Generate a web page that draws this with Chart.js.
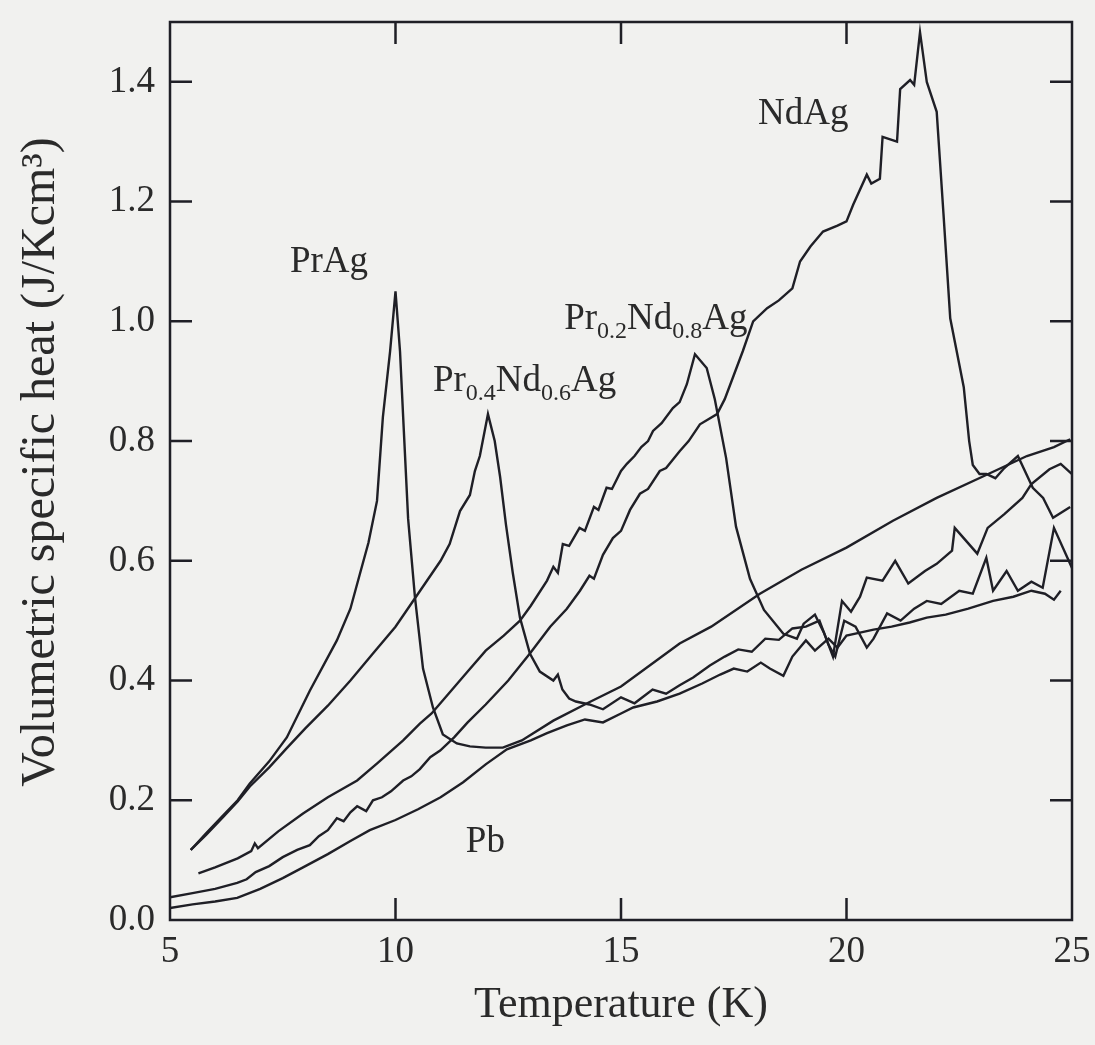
<!DOCTYPE html>
<html>
<head>
<meta charset="utf-8">
<title>Volumetric specific heat</title>
<script src="https://cdn.jsdelivr.net/npm/chart.js@4.4.1/dist/chart.umd.min.js"></script>
<style>
  html, body { margin: 0; padding: 0; background: #f1f1ef; }
  #wrap { width: 1095px; height: 1045px; position: relative; }
</style>
</head>
<body>
<div id="wrap"><canvas id="heatChart"></canvas></div>
<script>
// axis ticks
const xTicks = [5, 10, 15, 20, 25];
const yTicks = [0, 0.2, 0.4, 0.6, 0.8, 1.0, 1.2, 1.4];

// PrAg
const prAgT = [5.46, 5.8, 6.18, 6.5, 6.77, 7.2, 7.59, 8.1, 8.7, 9.0, 9.21, 9.4, 9.59, 9.72, 9.88, 10.0,
  10.1, 10.17, 10.28, 10.43, 10.61, 10.83, 11.05, 11.36, 11.65, 12.0, 12.38, 12.8, 13.5, 14.25, 15.0,
  15.87, 16.3, 17.0, 18.08, 19.0, 20.0, 21.03, 22.0, 23.0, 24.0, 24.6, 24.96];
const prAgC = [0.117, 0.145, 0.175, 0.2, 0.228, 0.265, 0.305, 0.383, 0.467, 0.52, 0.578, 0.63, 0.70, 0.84, 0.95, 1.05,
  0.95, 0.84, 0.67, 0.54, 0.42, 0.355, 0.31, 0.295, 0.29, 0.288, 0.288, 0.30, 0.333, 0.362, 0.39,
  0.438, 0.462, 0.49, 0.545, 0.585, 0.622, 0.667, 0.705, 0.74, 0.775, 0.79, 0.803];

// Pr0.4Nd0.6Ag
const pr04T = [5.46, 5.8, 6.18, 6.5, 6.77, 7.2, 7.6, 8.0, 8.5, 9.0, 9.5, 10.0, 10.5, 11.0, 11.2, 11.43, 11.65,
  11.76, 11.87, 12.05, 12.2, 12.32, 12.45, 12.6, 12.76, 12.98, 13.2, 13.5, 13.6, 13.7, 13.85, 14.0, 14.3,
  14.6, 15.0, 15.3, 15.7, 16.0, 16.3, 16.6, 16.97, 17.3, 17.6, 17.9, 18.2, 18.5, 18.8, 19.1, 19.4, 19.6,
  19.75, 19.95, 20.2, 20.45, 20.6, 20.9, 21.2, 21.5, 21.78, 22.1, 22.5, 22.8, 23.1, 23.25, 23.55, 23.8,
  24.1, 24.35, 24.6, 25.0];
const pr04C = [0.117, 0.142, 0.172, 0.198, 0.223, 0.255, 0.288, 0.32, 0.358, 0.40, 0.445, 0.49, 0.545, 0.60, 0.628, 0.683, 0.71,
  0.75, 0.775, 0.845, 0.80, 0.74, 0.66, 0.58, 0.505, 0.445, 0.415, 0.40, 0.41, 0.385, 0.37, 0.365, 0.36,
  0.352, 0.372, 0.362, 0.385, 0.378, 0.392, 0.405, 0.425, 0.44, 0.452, 0.448, 0.47, 0.468, 0.487, 0.49, 0.50, 0.46,
  0.44, 0.50, 0.49, 0.455, 0.47, 0.512, 0.50, 0.52, 0.533, 0.528, 0.55, 0.545, 0.605, 0.55, 0.583, 0.55,
  0.565, 0.555, 0.655, 0.588];

// Pr0.2Nd0.8Ag
const pr02T = [5.63, 6.0, 6.5, 6.8, 6.88, 6.95, 7.4, 7.95, 8.5, 9.15, 9.6, 10.17, 10.54, 10.8, 11.2, 11.6, 12.0,
  12.4, 12.76, 13.0, 13.36, 13.5, 13.6, 13.71, 13.85, 14.08, 14.2, 14.4, 14.5, 14.68, 14.8, 15.0, 15.13,
  15.3, 15.45, 15.6, 15.71, 15.9, 16.15, 16.3, 16.46, 16.64, 16.9, 17.08, 17.33, 17.55, 17.86, 18.17,
  18.6, 18.9, 19.05, 19.3, 19.5, 19.7, 19.9, 20.1, 20.3, 20.45, 20.8, 21.08, 21.37, 21.74, 22.0, 22.34,
  22.4, 22.9, 23.13, 23.5, 23.9, 24.1, 24.5, 24.75, 25.0];
const pr02C = [0.078, 0.088, 0.103, 0.115, 0.128, 0.12, 0.148, 0.178, 0.205, 0.233, 0.262, 0.30, 0.328, 0.345, 0.38, 0.415, 0.45,
  0.475, 0.50, 0.525, 0.567, 0.59, 0.58, 0.628, 0.625, 0.655, 0.65, 0.69, 0.685, 0.722, 0.72, 0.75, 0.762,
  0.775, 0.79, 0.80, 0.817, 0.83, 0.855, 0.865, 0.895, 0.945, 0.922, 0.87, 0.772, 0.657, 0.57, 0.518,
  0.478, 0.47, 0.495, 0.51, 0.48, 0.44, 0.533, 0.515, 0.54, 0.572, 0.567, 0.60, 0.562, 0.583, 0.595, 0.617,
  0.655, 0.612, 0.655, 0.678, 0.705, 0.728, 0.753, 0.762, 0.745];

// NdAg
const ndAgT = [5.0, 5.5, 6.0, 6.49, 6.7, 6.9, 7.2, 7.5, 7.82, 8.1, 8.3, 8.5, 8.7, 8.85, 9.0, 9.15, 9.35, 9.5,
  9.7, 9.9, 10.17, 10.35, 10.54, 10.77, 10.99, 11.3, 11.6, 12.0, 12.5, 12.98, 13.43, 13.8, 14.09, 14.3,
  14.4, 14.6, 14.82, 15.0, 15.2, 15.42, 15.6, 15.86, 16.0, 16.3, 16.5, 16.75, 17.13, 17.3, 17.5, 17.7,
  17.93, 18.24, 18.5, 18.8, 18.97, 19.2, 19.48, 19.8, 20.0, 20.15, 20.45, 20.55, 20.74, 20.8, 21.12,
  21.19, 21.41, 21.5, 21.63, 21.78, 22.0, 22.15, 22.3, 22.6, 22.72, 22.8, 22.95, 23.1, 23.3, 23.5, 23.8,
  24.13, 24.36, 24.58, 24.96];
const ndAgC = [0.038, 0.045, 0.052, 0.062, 0.068, 0.08, 0.09, 0.105, 0.117, 0.125, 0.14, 0.15, 0.17, 0.165, 0.18, 0.19, 0.182, 0.2,
  0.205, 0.215, 0.233, 0.24, 0.252, 0.272, 0.283, 0.305, 0.33, 0.36, 0.40, 0.445, 0.49, 0.52, 0.55, 0.575,
  0.57, 0.61, 0.638, 0.65, 0.685, 0.712, 0.72, 0.75, 0.755, 0.783, 0.80, 0.828, 0.845, 0.87, 0.91, 0.95,
  1.0, 1.022, 1.035, 1.055, 1.10, 1.125, 1.15, 1.16, 1.167, 1.195, 1.245, 1.23, 1.238, 1.308, 1.30,
  1.388, 1.403, 1.395, 1.483, 1.40, 1.35, 1.18, 1.005, 0.89, 0.80, 0.76, 0.745, 0.745, 0.738, 0.755, 0.775,
  0.722, 0.705, 0.672, 0.69];

// Pb
const pbT = [5.0, 5.5, 6.0, 6.49, 7.0, 7.5, 7.95, 8.5, 9.0, 9.43, 10.0, 10.5, 11.0, 11.5, 12.0, 12.47, 13.0,
  13.36, 13.8, 14.2, 14.6, 15.0, 15.27, 15.8, 16.3, 16.8, 17.2, 17.5, 17.8, 18.1, 18.3, 18.6, 18.8, 19.1,
  19.3, 19.6, 19.8, 20.0, 20.3, 20.6, 21.0, 21.4, 21.78, 22.2, 22.7, 23.25, 23.7, 24.1, 24.4, 24.6, 24.75];
const pbC = [0.02, 0.026, 0.031, 0.037, 0.052, 0.07, 0.088, 0.11, 0.132, 0.15, 0.167, 0.185, 0.205, 0.23, 0.26, 0.285, 0.30,
  0.312, 0.325, 0.335, 0.33, 0.345, 0.355, 0.365, 0.378, 0.395, 0.41, 0.42, 0.415, 0.43, 0.42, 0.408, 0.44, 0.467,
  0.45, 0.47, 0.455, 0.475, 0.48, 0.485, 0.49, 0.497, 0.505, 0.51, 0.52, 0.533, 0.54, 0.55, 0.545, 0.535, 0.55];

const ink = '#1f1f26';
const serif = '"Liberation Serif", "Times New Roman", serif';

function toPoints(ts, cs) {
    return ts.map((t, i) => ({ x: t, y: cs[i] }));
}

function curve(label, ts, cs) {
    return {
        label: label,
        data: toPoints(ts, cs),
        borderColor: ink,
        borderWidth: 2.4,
        pointRadius: 0,
        tension: 0,
        fill: false
    };
}

// text pieces: [string, isSubscript]
const curveLabels = [
    { t: 7.66, c: 1.083, parts: [['PrAg', false]] },
    { t: 10.83, c: 0.883, parts: [['Pr', false], ['0.4', true], ['Nd', false], ['0.6', true], ['Ag', false]] },
    { t: 13.74, c: 0.988, parts: [['Pr', false], ['0.2', true], ['Nd', false], ['0.8', true], ['Ag', false]] },
    { t: 18.04, c: 1.33, parts: [['NdAg', false]] },
    { t: 11.56, c: 0.113, parts: [['Pb', false]] }
];

const framePlugin = {
    id: 'frame',
    beforeDraw(chart) {
        const ctx = chart.ctx;
        ctx.save();
        ctx.fillStyle = '#f1f1ef';
        ctx.fillRect(0, 0, chart.width, chart.height);
        ctx.restore();
    },
    afterDraw(chart) {
        const ctx = chart.ctx;
        const a = chart.chartArea;
        const xs = chart.scales.x, ys = chart.scales.y;
        const len = 22;
        ctx.save();
        ctx.strokeStyle = ink;
        ctx.lineWidth = 2.5;
        ctx.strokeRect(a.left, a.top, a.right - a.left, a.bottom - a.top);
        ctx.beginPath();
        xTicks.slice(1, -1).forEach(v => {
            const px = xs.getPixelForValue(v);
            ctx.moveTo(px, a.bottom); ctx.lineTo(px, a.bottom - len);
            ctx.moveTo(px, a.top); ctx.lineTo(px, a.top + len);
        });
        yTicks.slice(1).forEach(v => {
            const py = ys.getPixelForValue(v);
            ctx.moveTo(a.left, py); ctx.lineTo(a.left + len, py);
            ctx.moveTo(a.right, py); ctx.lineTo(a.right - len, py);
        });
        ctx.stroke();

        // curve names
        ctx.fillStyle = '#2a2a2a';
        ctx.textBaseline = 'alphabetic';
        ctx.textAlign = 'left';
        curveLabels.forEach(l => {
            let x = xs.getPixelForValue(l.t);
            const y = ys.getPixelForValue(l.c);
            l.parts.forEach(p => {
                ctx.font = (p[1] ? '24px ' : '37px ') + serif;
                ctx.fillText(p[0], x, p[1] ? y + 9 : y);
                x += ctx.measureText(p[0]).width;
            });
        });

        // axis titles
        ctx.textAlign = 'center';
        ctx.textBaseline = 'middle';
        ctx.font = '44px ' + serif;
        ctx.fillText('Temperature (K)', (a.left + a.right) / 2, 1005);
        ctx.font = '48px ' + serif;
        ctx.translate(41, 462);
        ctx.rotate(-Math.PI / 2);
        ctx.fillText('Volumetric specific heat (J/Kcm³)', 0, 0);
        ctx.restore();
    }
};

const ctx = document.getElementById('heatChart');
new Chart(ctx, {
    type: 'line',
    data: {
        datasets: [
            curve('PrAg', prAgT, prAgC),
            curve('Pr0.4Nd0.6Ag', pr04T, pr04C),
            curve('Pr0.2Nd0.8Ag', pr02T, pr02C),
            curve('NdAg', ndAgT, ndAgC),
            curve('Pb', pbT, pbC)
        ]
    },
    options: {
        responsive: true,
        maintainAspectRatio: false,
        animation: false,
        layout: { padding: { top: 22, right: 23, left: 0, bottom: 0 } },
        plugins: { legend: { display: false }, tooltip: { enabled: false } },
        scales: {
            x: {
                type: 'linear',
                min: 5,
                max: 25,
                afterBuildTicks: s => { s.ticks = xTicks.map(v => ({ value: v })); },
                afterFit: s => { s.height = 125; s.paddingLeft = 0; s.paddingRight = 0; },
                grid: { display: false, drawTicks: false },
                border: { display: false },
                ticks: { color: '#2a2a2a', font: { family: serif, size: 37 }, padding: 10, maxRotation: 0 }
            },
            y: {
                type: 'linear',
                min: 0,
                max: 1.5,
                afterBuildTicks: s => { s.ticks = yTicks.map(v => ({ value: v })); },
                afterFit: s => { s.width = 170; s.paddingTop = 0; s.paddingBottom = 0; },
                grid: { display: false, drawTicks: false },
                border: { display: false },
                ticks: {
                    color: '#2a2a2a',
                    font: { family: serif, size: 37 },
                    padding: 15,
                    callback: v => v.toFixed(1)
                }
            }
        }
    },
    plugins: [framePlugin]
});
</script>
</body>
</html>
